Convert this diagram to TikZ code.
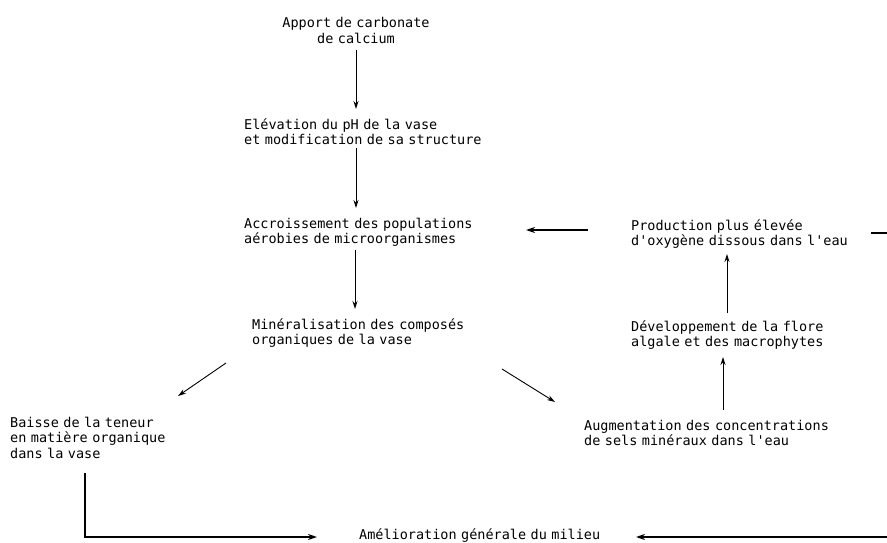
\documentclass[tikz,border=0pt]{standalone}
\usepackage{fontspec}
\setmonofont{DejaVu Sans Mono}
\usetikzlibrary{arrows.meta}
\tikzset{
  txt/.style={font=\ttfamily\fontsize{13.5}{15.5}\selectfont, inner sep=0pt, anchor=base west, text width=280pt, align=left},
  ctxt/.style={font=\ttfamily\fontsize{13.5}{15.5}\selectfont, inner sep=0pt, anchor=base, text width=220pt, align=center},
  arr/.style={line width=0.9pt, -{Stealth[length=8pt,width=5pt]}},
  harr/.style={line width=1.5pt, -{Stealth[length=9pt,width=6pt]}},
  plain/.style={line width=1.5pt}
}
\begin{document}
\begin{tikzpicture}[x=1pt,y=-1pt]
\useasboundingbox[fill=white] (0,0) rectangle (887,543);
% text nodes
\node[ctxt] (apport) at (356,28) {Apport de carbonate\\de calcium};
\node[txt] (elev) at (244,129) {Elévation du pH de la vase\\et modification de sa structure};
\node[txt] (accr) at (244,228) {Accroissement des populations\\aérobies de microorganismes};
\node[txt] (miner) at (252,329) {Minéralisation des composés\\organiques de la vase};
\node[txt] (baisse) at (10,427) {Baisse de la teneur\\en matière organique\\dans la vase};
\node[txt] (prod) at (631,230) {Production plus élevée\\d'oxygène dissous dans l'eau};
\node[txt] (devel) at (631,331) {Développement de la flore\\algale et des macrophytes};
\node[txt] (augm) at (584,430) {Augmentation des concentrations\\de sels minéraux dans l'eau};
\node[txt] (amel) at (359,539.5) {Amélioration générale du milieu};
% connector end points
\coordinate (apportS) at (356,50);
\coordinate (elevN) at (356,109);
\coordinate (elevS) at (356,148);
\coordinate (accrN) at (356,208);
\coordinate (accrS) at (355,250);
\coordinate (minerN) at (355,309);
\coordinate (minerSW) at (226,363);
\coordinate (baisseNE) at (178,396);
\coordinate (minerSE) at (502,369);
\coordinate (augmNW) at (555,402);
\coordinate (augmN) at (723,410);
\coordinate (develS) at (723,357);
\coordinate (develN) at (727,313);
\coordinate (prodS) at (727,254);
\coordinate (prodW) at (588,230);
\coordinate (accrE) at (526,230);
\coordinate (prodE) at (871,233);
\coordinate (rightEdge) at (887,233);
\coordinate (baisseS) at (85,473);
\coordinate (corner) at (85,537);
\coordinate (amelW) at (317,537);
\coordinate (bottomRight) at (887,537);
\coordinate (amelE) at (636,537);
% connectors
\draw[arr] (apportS) -- (elevN);
\draw[arr] (elevS) -- (accrN);
\draw[arr] (accrS) -- (minerN);
\draw[arr] (minerSW) -- (baisseNE);
\draw[arr] (minerSE) -- (augmNW);
\draw[arr] (augmN) -- (develS);
\draw[arr] (develN) -- (prodS);
\draw[harr] (prodW) -- (accrE);
\draw[plain] (prodE) -- (rightEdge);
\draw[harr] (baisseS) -- (corner) -- (amelW);
\draw[harr] (bottomRight) -- (amelE);
\end{tikzpicture}
\end{document}
